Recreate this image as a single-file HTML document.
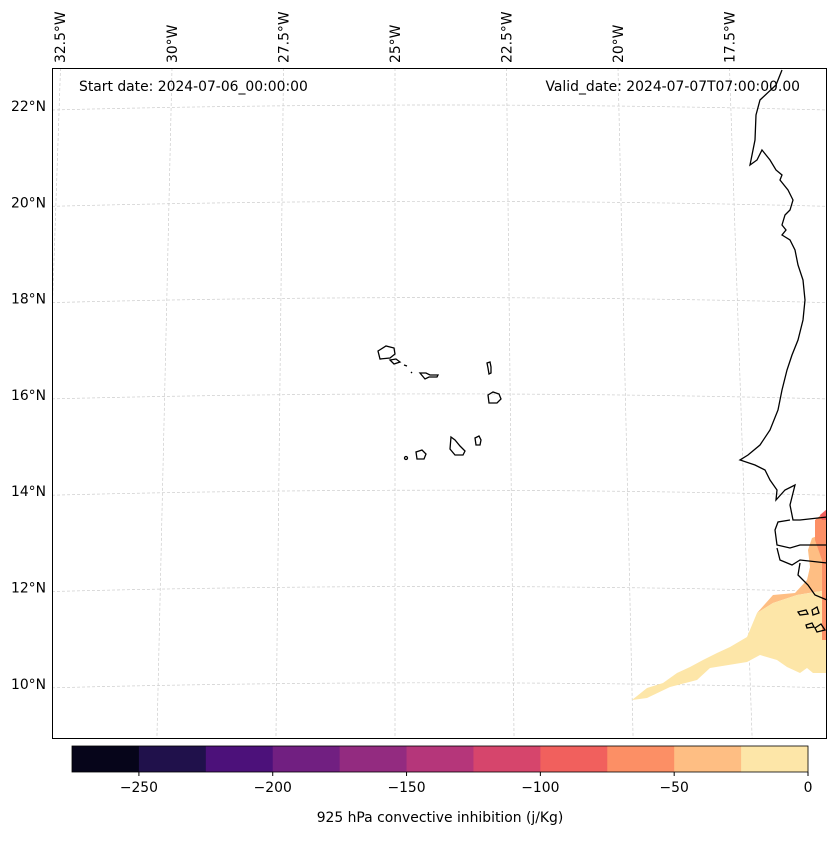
<!DOCTYPE html>
<html><head><meta charset="utf-8"><style>
body{margin:0;background:#fff;font-family:"Liberation Sans","DejaVu Sans",sans-serif}
svg text{font-family:"DejaVu Sans","Liberation Sans",sans-serif;font-size:13.9px;fill:#000}
</style></head><body>
<svg id="fig" width="837" height="836" xmlns="http://www.w3.org/2000/svg">
<defs><clipPath id="mapclip"><rect x="52" y="68" width="775" height="671"/></clipPath></defs>
<g>
 <rect x="52" y="68" width="775" height="671" fill="#fff"/>
 <g id="grid" clip-path="url(#mapclip)" stroke="#ccc" stroke-width="0.7" stroke-dasharray="3,2" fill="none"></g>
 <g>
  <polygon fill="#febe83" points="757,613 773,595 795,593 807,580 810,567 808,550 812,538 820,535 827,528 827,590 797,595 773,603"/>
  <polygon fill="#fc8f65" points="815,520 827,510 827,640 822,640 822,560 815,540"/>
  <polygon fill="#f1605d" points="820,515 827,509 827,520 822,520"/>
  <polygon fill="#fde6a8" points="632,700 647,688 663,683 677,673 690,667 703,660 717,653 730,647 747,637 757,613 773,603 797,595 822,591 822,640 827,640 827,673 813,673 807,668 800,673 787,667 777,660 760,655 747,662 710,668 697,680 670,687 647,698"/>
 </g>
 <g fill="none" stroke="#000" stroke-width="1.3">
  <polyline points="782,70 776,85 760,100 756,115 755,140 750,165 757,160 762,150 770,160 776,170 782,175 780,180 788,190 793,200 790,210 785,215 782,225 786,230 782,235 790,240 795,250 798,265 803,280 805,300 803,320 798,340 792,355 787,370 782,390 778,410 770,430 760,445 748,455 740,460 755,465 765,470 770,480 777,490 776,500 785,490 795,485 790,505 793,520 800,520 827,517"/>
  <polyline points="790,520 778,522 775,530 777,545 790,548 800,545 827,545"/>
  <polyline points="777,548 780,560 792,565 800,560 827,563"/>
  <polyline points="800,563 798,575 808,585 815,595 827,600"/>
  <path d="M798,612 l8,-2 2,4 -8,1z M812,610 l5,-3 2,6 -6,2z M806,625 l6,-2 2,4 -7,1z M815,628 l6,-4 4,6 -8,2z"/>
  <g>
   <path d="M378,351 l8,-5 8,2 1,6 -5,4 -10,1z"/>
   <path d="M390,360 l6,-1 4,3 -6,2z"/>
   <path d="M404,365 l3,1"/>
   <path d="M411,372 l1,1"/>
   <path d="M420,373 l6,0 4,2 8,0 -1,2 -8,0 -4,2z"/>
   <path d="M487,363 l3,-1 1,5 0,6 -2,1 -1,-6z"/>
   <path d="M488,395 l5,-3 6,2 2,5 -4,4 -8,0z"/>
   <path d="M451,437 l4,3 5,6 5,5 -2,4 -8,0 -5,-6z"/>
   <path d="M475,438 l4,-2 2,4 -1,5 -4,0z"/>
   <path d="M416,452 l6,-2 4,4 -2,5 -7,0z"/>
   <circle cx="406" cy="458" r="1.5"/>
  </g>
 </g>
 <rect x="52.5" y="68.5" width="774" height="670" fill="none" stroke="#000" stroke-width="1"/>
 <text x="79" y="91">Start date: 2024-07-06_00:00:00</text>
 <text x="800" y="91" text-anchor="end">Valid_date: 2024-07-07T07:00:00.00</text>
 <g id="latlabels"></g>
 <g id="lonlabels"></g>
</g>
<g id="cbar"></g>
<text x="440" y="822" text-anchor="middle">925 hPa convective inhibition (j/Kg)</text>
</svg>
<script>
const levels=[-275,-250,-225,-200,-175,-150,-125,-100,-75,-50,-25,0];
const colors=["#06051a","#20114b","#4c117a","#711f81","#932b80","#b5367a","#d6456c","#f1605d","#fc8f65","#febe83","#fde6a8"];
const cbTicks=[-250,-200,-150,-100,-50,0];
const latTicks=[22,20,18,16,14,12,10];
const lonTicks=[-32.5,-30,-27.5,-25,-22.5,-20,-17.5];
const NS="http://www.w3.org/2000/svg";
function mk(t,a,p){const e=document.createElementNS(NS,t);for(const k in a)e.setAttribute(k,a[k]);p.appendChild(e);return e;}
const cbX=v=>72+(v+275)/275*736;
const latY=l=>106+(22-l)*48.15;
const lonX=(lo,y)=>172+(lo+30)*44.6+(lo+25)*(y-68)*0.0045;
const cb=document.getElementById('cbar');
for(let i=0;i<colors.length;i++){
 const r=mk('rect',{x:cbX(levels[i]),y:746,width:cbX(levels[i+1])-cbX(levels[i])+0.5,height:26,fill:colors[i]},cb);
 
 
}
const fr=mk('rect',{x:72,y:746,width:736,height:26,fill:'none',stroke:'#000','stroke-width':0.8},cb);


cbTicks.forEach(v=>{
 const x=cbX(v);
 mk('line',{x1:x,x2:x,y1:772,y2:776,stroke:'#000'},cb);
 const t=mk('text',{x:x,y:792,'text-anchor':'middle'},cb);t.textContent=(v<0?'\u2212'+(-v):v);
 
 
});
const g=document.getElementById('grid'),ll=document.getElementById('latlabels'),lo=document.getElementById('lonlabels');
latTicks.forEach(l=>{
 const y=latY(l);
 const p=mk('path',{d:`M52,${y+4} Q440,${y-6} 827,${y+4}`},g);
 
 
 const t=mk('text',{x:46,y:y+5,'text-anchor':'end'},ll);t.textContent=l+'°N';
 
 
});
lonTicks.forEach(v=>{
 const x1=lonX(v,68),x2=lonX(v,739);
 const p=mk('line',{x1:x1,y1:68,x2:x2,y2:739},g);
 
 
 const x=v===-32.5?65:x1+5;
 const t=mk('text',{x:x,y:63,transform:`rotate(-90 ${x} 63)`},lo);t.textContent=(-v)+'°W';
 
 
});
</script>
</body></html>
